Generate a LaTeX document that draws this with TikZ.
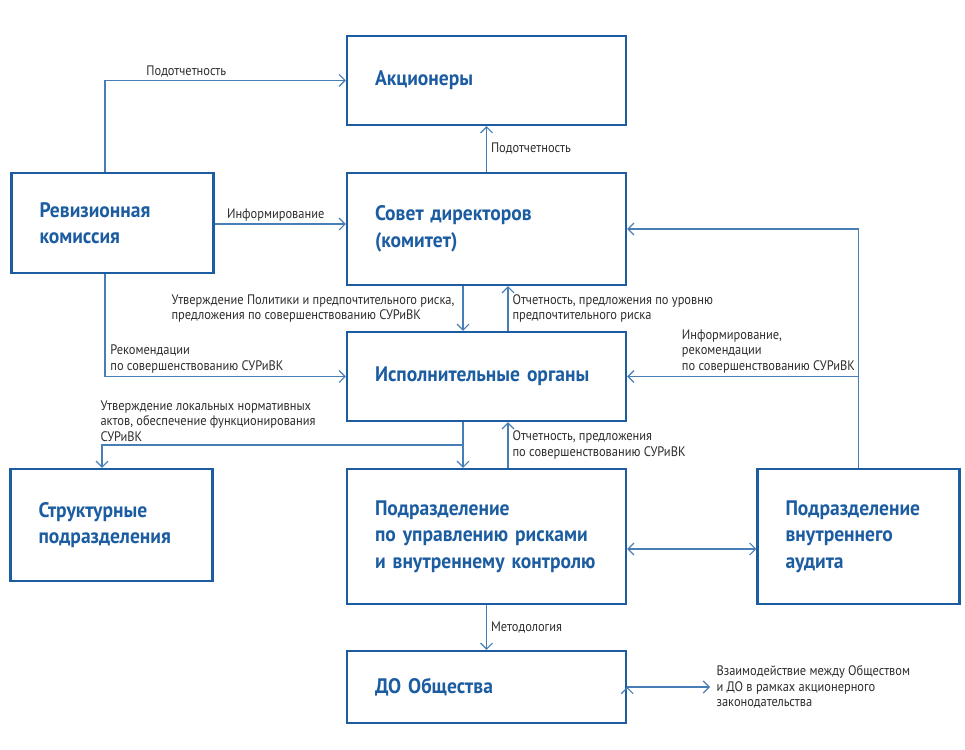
\documentclass[tikz,border=0pt]{standalone}
\usepackage{fontspec}
\setmainfont{PT Sans}
\newfontfamily\titlefont{PT Sans}[FakeStretch=0.93]
\newfontfamily\lblfont{PT Sans}[FakeStretch=0.9]
\usepackage{tikz}
\usetikzlibrary{arrows.meta}

\definecolor{boxblue}{RGB}{28,92,160}
\definecolor{linkblue}{RGB}{72,126,184}
\definecolor{lblgray}{RGB}{45,45,45}

\tikzset{
  box/.style={draw=boxblue, line width=2.4pt, text=boxblue, align=left, inner sep=0pt,
    font=\titlefont\bfseries\fontsize{21}{26.5}\selectfont},
  wide/.style={box, minimum width=279pt, text width=223pt},
  narrow/.style={box, minimum width=202pt, text width=146pt},
  lbl/.style={text=lblgray, align=left, inner sep=0pt, font=\lblfont\fontsize{13.8}{15.5}\selectfont},
  link/.style={draw=linkblue, line width=1.1pt},
}

\begin{document}
\begin{tikzpicture}[x=1pt,y=-1pt,>={Straight Barb[length=6pt,width=12pt]}]
		\useasboundingbox (0,0) rectangle (965,749);
		\node[wide, minimum height=89pt] (ak) at (486.5,80.5) {Акционеры};
		\node[narrow, minimum height=100pt] (rev) at (112.5,223) {Ревизионная\\комиссия};
		\node[wide, minimum height=112pt] (sov) at (486.5,229) {Совет директоров\\(комитет)};
		\node[wide, minimum height=89pt] (isp) at (486.5,376.5) {Исполнительные органы};
		\node[narrow, minimum height=112pt] (str) at (111.5,525) {Структурные\\подразделения};
		\node[wide, minimum height=135pt] (pur) at (486.5,536.5) {Подразделение\\по управлению рисками\\и внутреннему контролю};
		\node[narrow, minimum height=135pt] (aud) at (858.5,536.5) {Подразделение\\внутреннего\\аудита};
		\node[wide, minimum height=72pt] (do) at (486.5,687) {ДО Общества};
		\coordinate (fork) at (463,445);
		\coordinate (doout) at (710,687);
		%
		\path[link,->]
		(sov) edge node[lbl,right=4pt]{Подотчетность} (ak)
		([yshift=-1pt]rev.east) edge node[lbl,pos=0.09,anchor=south west,yshift=2pt]{Информирование} ([yshift=-1pt]rev.east -| sov.west)
		([xshift=-23.5pt]sov.south) edge node[lbl,left=8pt]{Утверждение Политики и предпочтительного риска,\\предложения по совершенствованию СУРиВК} ([xshift=-23.5pt]isp.north)
		([xshift=21.5pt]isp.north) edge node[lbl,right=4pt]{Отчетность, предложения по уровню\\предпочтительного риска} ([xshift=21.5pt]sov.south)
		(isp.east -| aud.north) edge node[lbl,pos=0,anchor=south east,xshift=-3pt,yshift=3pt]{Информирование,\\рекомендации\\по совершенствованию СУРиВК} (isp.east)
		([xshift=-23.5pt]isp.south) edge ([xshift=-23.5pt]pur.north)
		([xshift=21.5pt]pur.north) edge node[lbl,right=4pt]{Отчетность, предложения\\по совершенствованию СУРиВК} ([xshift=21.5pt]isp.south)
		([yshift=-12.5pt]pur.east) edge[<->] ([yshift=-12.5pt]aud.west)
		(pur) edge node[lbl,right=4pt]{Методология} (do)
		(do.east) edge node[lbl,pos=1,right=6pt]{Взаимодействие между Обществом\\и ДО в рамках акционерного\\законодательства} (doout);
		%
		\draw[link,->] ([xshift=-7.5pt]rev.north) |- node[lbl,pos=0.585,anchor=south west,yshift=3pt]{Подотчетность} (ak.west);
		\draw[link,->] ([xshift=-7.5pt]rev.south) |- node[lbl,pos=0.51,anchor=south west,yshift=3pt]{Рекомендации\\по совершенствованию СУРиВК} (isp.west);
		\draw[link,->] (aud.north) |- (sov.east);
		\draw[link,->] (fork) -| node[lbl,pos=0.5,anchor=south west,xshift=-2pt,yshift=3pt]{Утверждение локальных нормативных\\актов, обеспечение функционирования\\СУРиВК} ([xshift=-9.5pt]str.north);
\end{tikzpicture}
\end{document}
